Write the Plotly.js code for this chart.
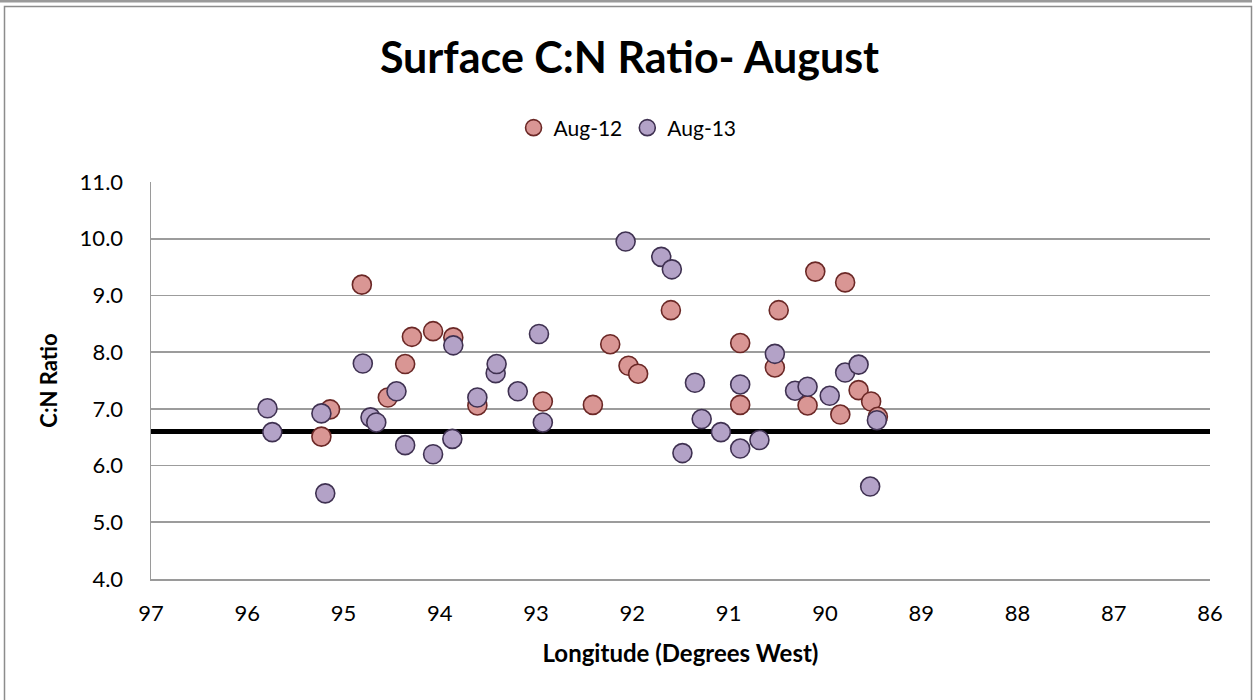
<!DOCTYPE html>
<html>
<head>
<meta charset="utf-8">
<script src="https://cdn.plot.ly/plotly-3.0.1.min.js"></script>
<style>
  html, body { margin: 0; padding: 0; background: #ffffff; }
  #chart { width: 1259px; height: 700px; }
</style>
</head>
<body>
<div id="chart"></div>
<script>
// Aug-12 series: longitude (degrees west) and C:N ratio
const aug12Lon = [95.14, 95.23, 94.81, 94.54, 94.36, 94.29, 94.07, 93.86, 93.61, 92.93,
                  92.41, 92.23, 92.04, 91.94, 91.60, 90.88, 90.88, 90.52, 90.48, 90.18,
                  90.10, 89.84, 89.79, 89.65, 89.52, 89.45];
const aug12CN  = [6.99, 6.51, 9.19, 7.20, 7.79, 8.27, 8.37, 8.26, 7.06, 7.13,
                  7.07, 8.14, 7.76, 7.62, 8.74, 8.16, 7.07, 7.73, 8.74, 7.06,
                  9.42, 6.90, 9.23, 7.33, 7.13, 6.86];

// Aug-13 series
const aug13Lon = [95.79, 95.74, 95.23, 95.19, 94.80, 94.72, 94.66, 94.45, 94.36, 94.07,
                  93.87, 93.86, 93.61, 93.42, 93.41, 93.19, 92.97, 92.93, 92.07, 91.70,
                  91.59, 91.48, 91.35, 91.28, 91.08, 90.88, 90.88, 90.68, 90.52, 90.31,
                  90.18, 89.95, 89.79, 89.65, 89.53, 89.46];
const aug13CN  = [7.01, 6.59, 6.92, 5.51, 7.80, 6.85, 6.76, 7.31, 6.36, 6.20,
                  6.47, 8.12, 7.20, 7.63, 7.79, 7.31, 8.32, 6.76, 9.95, 9.68,
                  9.46, 6.22, 7.46, 6.82, 6.59, 6.30, 7.43, 6.45, 7.97, 7.32,
                  7.39, 7.23, 7.64, 7.78, 5.63, 6.80];

// Reference (Redfield) line
const refLon = [97, 86];
const refCN  = [6.6, 6.6];

// Axis ticks
const xTicks = [97, 96, 95, 94, 93, 92, 91, 90, 89, 88, 87, 86];
const yTicks = [4, 5, 6, 7, 8, 9, 10, 11];
const yTickLabels = ['4.0', '5.0', '6.0', '7.0', '8.0', '9.0', '10.0', '11.0'];

const FONT = 'Lato, "Open Sans", sans-serif';

const traces = [
  {
    x: refLon, y: refCN, type: 'scatter', mode: 'lines',
    line: { color: '#000000', width: 5 },
    showlegend: false, hoverinfo: 'skip'
  },
  {
    x: aug12Lon, y: aug12CN, type: 'scatter', mode: 'markers', name: 'Aug-12',
    marker: { size: 19, color: '#D99694', line: { color: '#6B2826', width: 1.6 } }
  },
  {
    x: aug13Lon, y: aug13CN, type: 'scatter', mode: 'markers', name: 'Aug-13',
    marker: { size: 19, color: '#B3A2C7', line: { color: '#3F3151', width: 1.6 } }
  }
];

const layout = {
  width: 1259, height: 700,
  margin: { l: 151, r: 49, t: 182, b: 121, pad: 0 },
  paper_bgcolor: '#ffffff', plot_bgcolor: '#ffffff',
  font: { family: FONT, color: '#000000', size: 22 },
  title: {
    text: '<b>Surface C:N Ratio- August</b>',
    font: { family: FONT, size: 43, color: '#000000' },
    x: 0.5, xanchor: 'center', y: 0.917, yanchor: 'middle'
  },
  showlegend: true,
  legend: {
    orientation: 'h', x: 0.45, xanchor: 'center', y: 1.136, yanchor: 'middle',
    font: { family: FONT, size: 21, color: '#000000' },
    itemsizing: 'trace', traceorder: 'normal', itemwidth: 30
  },
  xaxis: {
    range: [97, 86], autorange: false,
    tickmode: 'array', tickvals: xTicks,
    ticks: '', ticklabelstandoff: 14,
    showgrid: false, zeroline: false,
    showline: true, linecolor: '#9a9a9a', linewidth: 1.5,
    tickfont: { family: FONT, size: 22, color: '#000000' },
    title: { text: '<b>Longitude (Degrees West)</b>', font: { family: FONT, size: 24, color: '#000000' }, standoff: 20 }
  },
  yaxis: {
    range: [4, 11], autorange: false,
    tickmode: 'array', tickvals: yTicks, ticktext: yTickLabels,
    ticks: '', ticklabelstandoff: 22,
    showgrid: true, gridcolor: '#9c9c9c', gridwidth: 1.6,
    zeroline: false,
    showline: true, linecolor: '#9a9a9a', linewidth: 1.5,
    tickfont: { family: FONT, size: 22, color: '#000000' },
    title: { text: '<b>C:N Ratio</b>', font: { family: FONT, size: 22, color: '#000000' }, standoff: 16 }
  },
  shapes: [
    { type: 'rect', xref: 'paper', yref: 'paper',
      x0: (4.5 - 151) / 1059, x1: (1251.5 - 151) / 1059,
      y0: (579 - 710) / 397, y1: (579 - 6.5) / 397,
      line: { color: '#8c8c8c', width: 1.5 }, fillcolor: 'rgba(0,0,0,0)', layer: 'below' },
    { type: 'rect', xref: 'paper', yref: 'paper',
      x0: -151 / 1059, x1: (1252 - 151) / 1059,
      y0: (579 - 2.5) / 397, y1: (579 + 2) / 397,
      line: { width: 0 }, fillcolor: '#9a9a9a', layer: 'below' }
  ]
};

Plotly.newPlot('chart', traces, layout, { displayModeBar: false, staticPlot: true });
</script>
</body>
</html>
